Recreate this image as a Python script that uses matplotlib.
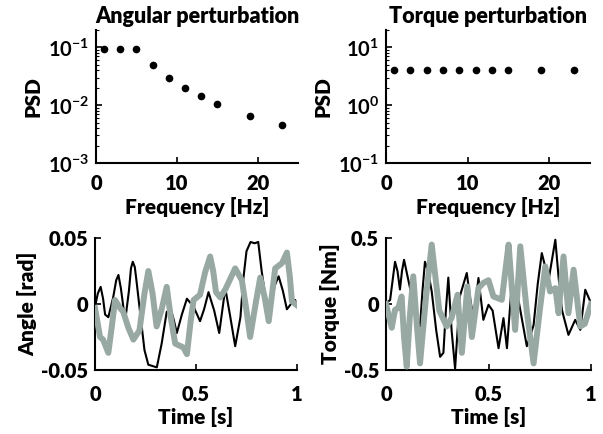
import matplotlib
matplotlib.use("Agg")
import matplotlib.pyplot as plt
from matplotlib.ticker import FixedLocator, FixedFormatter, LogLocator, NullFormatter

plt.rcParams['font.family'] = ['Lato', 'DejaVu Sans']
plt.rcParams['font.weight'] = 'bold'
plt.rcParams['mathtext.fontset'] = 'custom'
plt.rcParams['mathtext.rm'] = 'Lato:bold'
plt.rcParams['mathtext.it'] = 'Lato:bold'
plt.rcParams['mathtext.bf'] = 'Lato:bold'

# ---- data ----
freqs = [1, 3, 5, 7, 9, 11, 13, 15, 19, 23]
psd_angle = [0.095, 0.095, 0.095, 0.050, 0.030, 0.020, 0.0144, 0.0105, 0.0066, 0.0045]
psd_torque = [4.1, 4.1, 4.1, 4.1, 4.1, 4.1, 4.1, 4.1, 4.1, 4.1]

angle_resp_t = [0, 0.014, 0.028, 0.04, 0.05, 0.066, 0.09, 0.105, 0.116, 0.128, 0.135, 0.149, 0.168, 0.178, 0.187,
                0.197, 0.205, 0.22, 0.245, 0.264, 0.285, 0.306, 0.33, 0.355, 0.375, 0.39, 0.405, 0.43, 0.455,
                0.488, 0.52, 0.54, 0.562, 0.59, 0.615, 0.63, 0.645, 0.67, 0.694, 0.72, 0.735, 0.75, 0.77, 0.79,
                0.808, 0.825, 0.843, 0.868, 0.89, 0.909, 0.93, 0.95, 0.975, 0.991, 1.0]
angle_resp_v = [-0.002, 0.008, 0.013, 0.004, -0.008, -0.010, 0.005, 0.018, 0.022, 0.012, 0.004, -0.013, 0.010,
                0.027, 0.032, 0.028, 0.018, -0.002, -0.035, -0.046, -0.047, -0.048, -0.030, -0.006, -0.004,
                -0.012, -0.022, -0.008, 0.004, -0.002, -0.013, -0.004, 0.009, -0.005, -0.022, -0.005, 0.012,
                -0.010, -0.032, -0.010, 0.020, 0.040, 0.047, 0.046, 0.047, 0.025, 0.006, -0.003, 0.014, 0.021,
                0.010, -0.004, 0.001, 0.003, -0.002]

angle_pert_t = [0, 0.025, 0.04, 0.066, 0.085, 0.099, 0.124, 0.14, 0.165, 0.19, 0.22, 0.245, 0.264, 0.285, 0.305,
                0.33, 0.355, 0.375, 0.397, 0.438, 0.455, 0.472, 0.488, 0.52, 0.545, 0.57, 0.585, 0.599, 0.62,
                0.645, 0.694, 0.727, 0.75, 0.768, 0.795, 0.818, 0.84, 0.86, 0.892, 0.926, 0.95, 0.965, 0.975, 1.0]
angle_pert_v = [-0.003, -0.025, -0.027, -0.037, -0.015, 0.003, -0.003, -0.006, -0.018, -0.027, -0.020, 0.008,
                0.025, 0.008, -0.017, -0.004, 0.013, -0.010, -0.030, -0.033, -0.038, -0.015, 0.003, 0.007,
                0.024, 0.036, 0.025, 0.009, 0.005, 0.011, 0.027, 0.018, -0.005, -0.025, 0.000, 0.020, 0.005,
                -0.013, 0.027, 0.031, 0.039, 0.020, 0.002, -0.001]

torque_resp_t = [0, 0.02, 0.034, 0.044, 0.056, 0.068, 0.078, 0.088, 0.12, 0.145, 0.166, 0.178, 0.19, 0.205, 0.223,
                 0.245, 0.264, 0.28, 0.292, 0.304, 0.32, 0.337, 0.36, 0.394, 0.41, 0.427, 0.451, 0.475, 0.5, 0.52,
                 0.549, 0.573, 0.59, 0.614, 0.646, 0.687, 0.72, 0.74, 0.76, 0.793, 0.826, 0.842, 0.858, 0.89,
                 0.923, 0.948, 0.972, 1.0]
torque_resp_v = [0.007, 0.03, 0.20, 0.32, 0.25, 0.11, 0.25, 0.335, 0.10, -0.10, -0.17, 0.10, 0.32, 0.25, 0.095,
                 -0.20, -0.40, -0.37, -0.05, 0.20, -0.20, -0.49, 0.057, 0.235, 0.05, -0.12, 0.197, -0.12, -0.006,
                 -0.05, -0.335, -0.107, -0.335, 0.16, 0.032, -0.32, -0.16, 0.15, 0.386, 0.18, 0.487, 0.20,
                 -0.044, -0.234, -0.12, -0.196, 0.108, 0.007]

torque_pert_t = [0, 0.028, 0.044, 0.06, 0.076, 0.088, 0.101, 0.116, 0.133, 0.15, 0.166, 0.195, 0.223, 0.26, 0.296,
                 0.32, 0.349, 0.37, 0.397, 0.419, 0.451, 0.475, 0.5, 0.524, 0.565, 0.582, 0.598, 0.63, 0.655,
                 0.687, 0.72, 0.75, 0.777, 0.80, 0.826, 0.842, 0.866, 0.89, 0.915, 0.948, 0.97, 1.0]
torque_pert_v = [0.0, -0.18, -0.044, -0.03, 0.057, -0.25, -0.474, -0.10, 0.21, -0.15, -0.45, 0.05, 0.45, -0.05,
                 -0.17, -0.105, 0.07, -0.37, 0.133, -0.25, 0.12, 0.16, 0.18, 0.057, 0.032, 0.25, 0.45, -0.196,
                 0.437, -0.057, -0.45, -0.05, 0.285, 0.095, 0.12, -0.07, 0.36, -0.07, 0.26, -0.17, -0.15, 0.0]

titles = ["Angular perturbation", "Torque perturbation"]
GRAY = '#98a8a3'
TICK_FS = 14.5
LAB_FS = 15
TITLE_FS = 15.5
WEIGHT = 'heavy'

W, H = 603, 434
fig = plt.figure(figsize=(W / 100, H / 100), dpi=100)

def ax_at(x0, x1, ytop, ybot):
    return fig.add_axes([x0 / W, 1 - ybot / H, (x1 - x0) / W, (ybot - ytop) / H])

def style(ax, xpad):
    for s in ['top', 'right']:
        ax.spines[s].set_visible(False)
    for s in ['left', 'bottom']:
        ax.spines[s].set_linewidth(1.5)
    ax.tick_params(direction='in', length=4, width=1.2, labelsize=TICK_FS)
    ax.tick_params(axis='y', pad=5)
    ax.tick_params(axis='x', pad=xpad)
    ax.tick_params(which='minor', direction='in', length=2, width=0.8)
    for lab in ax.get_xticklabels() + ax.get_yticklabels():
        lab.set_fontweight(WEIGHT)

ax1 = ax_at(96, 298, 30, 163)
ax2 = ax_at(386, 590, 30, 163)
ax3 = ax_at(95, 297, 238, 370)
ax4 = ax_at(386, 591, 238, 370)

for ax, psd, title, ylim, decs in [(ax1, psd_angle, titles[0], (1e-3, 0.2), [-3, -2, -1]),
                                   (ax2, psd_torque, titles[1], (0.1, 20), [-1, 0, 1])]:
    ax.plot(freqs, psd, 'o', color='black', markersize=4.5)
    ax.set_yscale('log')
    ax.set_ylim(*ylim)
    ax.set_xlim(0, 25)
    ax.set_xticks([0, 10, 20])
    ax.yaxis.set_major_locator(FixedLocator([10.0 ** d for d in decs]))
    ax.yaxis.set_major_formatter(FixedFormatter([r'$10^{%d}$' % d for d in decs]))
    ax.yaxis.set_minor_locator(LogLocator(base=10, subs=range(2, 10)))
    ax.yaxis.set_minor_formatter(NullFormatter())
    style(ax, 8)
    ax.set_xlabel('Frequency [Hz]', fontsize=LAB_FS, fontweight=WEIGHT, labelpad=3)
    ax.set_ylabel('PSD', fontsize=LAB_FS, fontweight=WEIGHT, labelpad=4)
    ax.set_title(title, fontsize=TITLE_FS, fontweight=WEIGHT, pad=5)

ax3.plot(angle_resp_t, angle_resp_v, color='black', lw=1.5, zorder=2, solid_joinstyle='round')
ax3.plot(angle_pert_t, angle_pert_v, color=GRAY, lw=4.3, zorder=3, solid_joinstyle='round')
ax3.set_ylim(-0.05, 0.05)
ax3.set_yticks([-0.05, 0, 0.05])
ax3.set_yticklabels(['-0.05', '0', '0.05'])
ax3.set_ylabel('Angle [rad]', fontsize=LAB_FS, fontweight=WEIGHT, labelpad=3)

ax4.plot(torque_resp_t, torque_resp_v, color='black', lw=1.5, zorder=2, solid_joinstyle='round')
ax4.plot(torque_pert_t, torque_pert_v, color=GRAY, lw=4.3, zorder=3, solid_joinstyle='round')
ax4.set_ylim(-0.5, 0.5)
ax4.set_yticks([-0.5, 0, 0.5])
ax4.set_yticklabels(['-0.5', '0', '0.5'])
ax4.set_ylabel('Torque [Nm]', fontsize=LAB_FS, fontweight=WEIGHT, labelpad=3)

for ax in (ax3, ax4):
    ax.set_xlim(0, 1)
    ax.set_xticks([0, 0.5, 1])
    ax.set_xticklabels(['0', '0.5', '1'])
    style(ax, 11)
    ax.set_xlabel('Time [s]', fontsize=LAB_FS, fontweight=WEIGHT, labelpad=2)

fig.savefig('out.png', dpi=100)
